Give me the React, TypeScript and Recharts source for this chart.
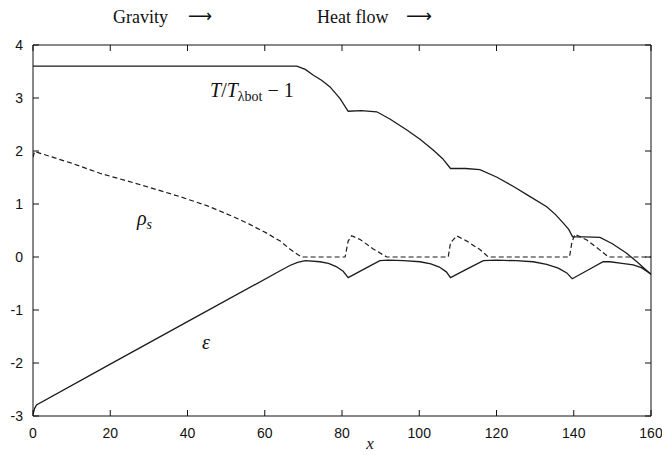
import React from 'react';
import { LineChart, Line, XAxis, YAxis } from 'recharts';

const xTicks = [0, 20, 40, 60, 80, 100, 120, 140, 160];
const yTicks = [-3, -2, -1, 0, 1, 2, 3, 4];

// T/T_lambda_bot - 1 (solid, upper)
const tX = [0, 68.3, 70.5, 72.6, 74.8, 76.9, 79.5, 81.6, 85, 89, 92.5, 96.7, 100.2, 103.6, 106, 108.1, 112, 115.7, 120, 124.4, 128.7, 133, 135.3, 137.3, 138.7, 139.7, 143, 146.8, 150, 153.7, 156.5, 160];
const tY = [3.6, 3.6, 3.54, 3.43, 3.33, 3.21, 2.99, 2.75, 2.76, 2.74, 2.6, 2.4, 2.22, 2.02, 1.86, 1.67, 1.67, 1.65, 1.51, 1.33, 1.14, 0.95, 0.8, 0.64, 0.52, 0.38, 0.38, 0.37, 0.25, 0.07, -0.1, -0.33];

// epsilon (solid, lower)
const eX = [0, 0.4, 0.9, 20, 40, 64, 66.5, 68.5, 70.5, 74.3, 76.5, 78.5, 80.3, 81.6, 85.7, 89.8, 92, 96, 100.2, 103, 105.2, 107, 108.1, 112.3, 116.6, 120, 125, 129.5, 133, 136, 138.2, 139.6, 143.6, 147.6, 149.4, 152.5, 155.4, 157.5, 160];
const eY = [-2.97, -2.86, -2.79, -2.02, -1.22, -0.26, -0.16, -0.1, -0.07, -0.09, -0.12, -0.18, -0.27, -0.39, -0.23, -0.07, -0.06, -0.07, -0.09, -0.13, -0.19, -0.28, -0.39, -0.23, -0.07, -0.06, -0.07, -0.09, -0.14, -0.21, -0.3, -0.41, -0.25, -0.09, -0.09, -0.12, -0.15, -0.2, -0.32];

// rho_s (dashed)
const rX = [0, 0.4, 10, 17.3, 28, 38, 45, 51.9, 56, 60.5, 64, 66.5, 69.5, 80.8, 81.6, 82.5, 84.7, 88.1, 91.6, 107.5, 108.1, 109.7, 112.3, 115.7, 117.9, 138.9, 139.5, 140.3, 143.4, 146.8, 149, 160];
const rY = [1.88, 1.99, 1.77, 1.58, 1.36, 1.14, 0.97, 0.76, 0.62, 0.45, 0.3, 0.15, 0, 0, 0.3, 0.4, 0.33, 0.15, 0, 0, 0.27, 0.4, 0.3, 0.14, 0, 0, 0.27, 0.43, 0.32, 0.13, 0, 0];

const toPoints = (xs: number[], ys: number[]) => xs.map((x, i) => ({ x, y: ys[i] }));
const tData = toPoints(tX, tY);
const eData = toPoints(eX, eY);
const rData = toPoints(rX, rY);

const tickFont = { fill: '#111', fontSize: 14, fontFamily: '"Liberation Sans", Arial, sans-serif' };
const lineColor = '#1c1c1c';
const serif = '"Liberation Serif", "DejaVu Serif", serif';

export default function App() {
  return (
    <div style={{ position: 'absolute', left: 0, top: 0, width: 662, height: 455, background: '#fff', overflow: 'hidden' }}>
      <LineChart width={662} height={455} margin={{ top: 44, right: 10, bottom: 0, left: 0 }}>
        <XAxis xAxisId="b" dataKey="x" type="number" domain={[0, 160]} ticks={xTicks} interval={0}
          orientation="bottom" height={39} tickSize={-6} tickMargin={18} stroke="#111"
          tick={tickFont} allowDataOverflow />
        <XAxis xAxisId="t" dataKey="x" type="number" domain={[0, 160]} ticks={xTicks} interval={0}
          orientation="top" height={1} tickSize={-6} stroke="#111" tickFormatter={() => ''} allowDataOverflow />
        <YAxis yAxisId="l" type="number" domain={[-3, 4]} ticks={yTicks} interval={0}
          orientation="left" width={33} tickSize={-6} tickMargin={16} stroke="#111"
          tick={tickFont} allowDataOverflow />
        <YAxis yAxisId="r" type="number" domain={[-3, 4]} ticks={yTicks} interval={0}
          orientation="right" width={1} tickSize={-6} stroke="#111" tickFormatter={() => ''} allowDataOverflow />
        <Line xAxisId="b" yAxisId="l" data={tData} dataKey="y" type="linear" stroke={lineColor} strokeWidth={1.3} dot={false} isAnimationActive={false} />
        <Line xAxisId="b" yAxisId="l" data={eData} dataKey="y" type="linear" stroke={lineColor} strokeWidth={1.3} dot={false} isAnimationActive={false} />
        <Line xAxisId="b" yAxisId="l" data={rData} dataKey="y" type="linear" stroke={lineColor} strokeWidth={1.2} strokeDasharray="5 3" dot={false} isAnimationActive={false} />
      </LineChart>
      <svg width={662} height={455} style={{ position: 'absolute', left: 0, top: 0, pointerEvents: 'none' }}>
        <g fontFamily={serif} fill="#111">
          <text x={113} y={23} fontSize={18}>Gravity</text>
          <text x={188} y={22} fontSize={18} textLength={24} lengthAdjust="spacingAndGlyphs" fontFamily='"DejaVu Sans", sans-serif'>⟶</text>
          <text x={317} y={23} fontSize={18}>Heat flow</text>
          <text x={406} y={22} fontSize={18} textLength={26} lengthAdjust="spacingAndGlyphs" fontFamily='"DejaVu Sans", sans-serif'>⟶</text>
          <text x={210} y={97} fontSize={20}>
            <tspan fontStyle="italic">T</tspan>
            <tspan>/</tspan>
            <tspan fontStyle="italic">T</tspan>
            <tspan fontSize={14} dy={4}>λbot</tspan>
            <tspan dy={-4}> − 1</tspan>
          </text>
          <text x={137} y={225} fontSize={20} fontStyle="italic">
            <tspan>ρ</tspan>
            <tspan fontSize={14} dy={4}>s</tspan>
          </text>
          <text x={202} y={349} fontSize={20} fontStyle="italic">ε</text>
          <text x={370} y={449} fontSize={17} fontStyle="italic" textAnchor="middle">x</text>
        </g>
      </svg>
    </div>
  );
}
